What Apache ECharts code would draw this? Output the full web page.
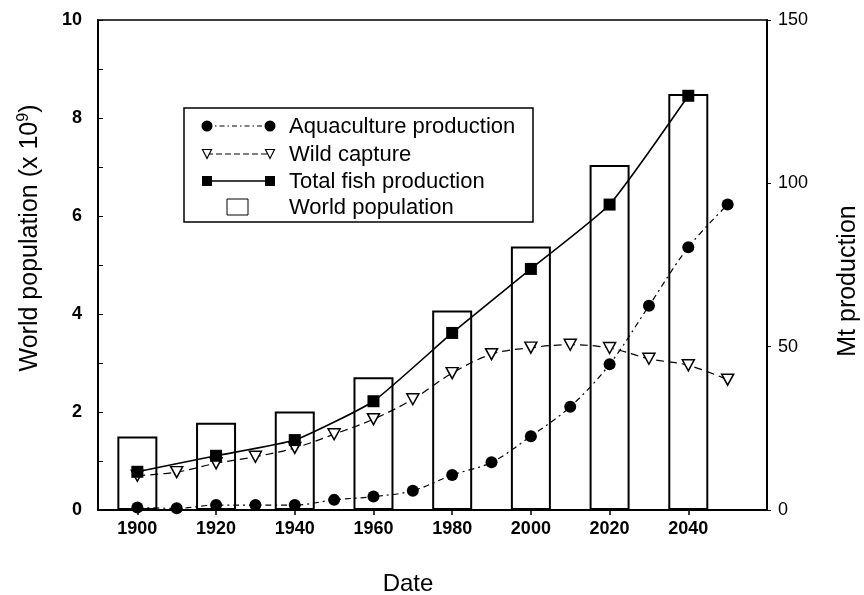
<!DOCTYPE html>
<html>
<head>
<meta charset="utf-8">
<script src="https://cdn.jsdelivr.net/npm/echarts@6/dist/echarts.min.js"></script>
<style>
html,body{margin:0;padding:0;background:#fff;}
#chart{width:864px;height:595px;}
</style>
</head>
<body>
<div id="chart"></div>
<script>
// ---- data ----
const xTickLabels = [1900, 1920, 1940, 1960, 1980, 2000, 2020, 2040];
const leftTickLabels = [0, 2, 4, 6, 8, 10];
const rightTickLabels = [0, 50, 100, 150];

const popYears = [1900, 1920, 1940, 1960, 1980, 2000, 2020, 2040];
const population = [1.5, 1.78, 2.01, 2.71, 4.07, 5.38, 7.04, 8.49];

const totalYears = [1900, 1920, 1940, 1960, 1980, 2000, 2020, 2040];
const totalFish = [11.7, 16.6, 21.4, 33.3, 54.2, 73.8, 93.5, 126.8];

const decadeYears = [1900, 1910, 1920, 1930, 1940, 1950, 1960, 1970, 1980, 1990, 2000, 2010, 2020, 2030, 2040, 2050];
const wildCapture = [10.5, 11.6, 14.3, 16.3, 19.0, 23.2, 27.8, 33.9, 41.9, 47.7, 49.7, 50.6, 49.6, 46.3, 44.3, 39.9];
const aquaculture = [0.8, 0.5, 1.5, 1.5, 1.5, 3.1, 4.1, 5.9, 10.7, 14.6, 22.6, 31.6, 44.6, 62.5, 80.4, 93.5];

const legendNames = ['Aquaculture production', 'Wild capture', 'Total fish production', 'World population'];

// ---- build ----
const FONT = 'Liberation Sans, Arial, Helvetica, sans-serif';
const zip = (xs, ys) => xs.map((x, i) => [x, ys[i]]);

const chart = echarts.init(document.getElementById('chart'), null, {renderer: 'canvas'});

function downTri(cx, cy, s) {
  return [[cx - s / 2, cy - s / 2], [cx + s / 2, cy - s / 2], [cx, cy + s / 2]];
}

const L = {x0: 184, y0: 108, w: 349, h: 114, sx1: 207, sx2: 270, tx: 289, rows: [126, 154, 181, 207]};
const legendGraphics = [
  {type: 'rect', shape: {x: L.x0, y: L.y0, width: L.w, height: L.h}, style: {fill: '#fff', stroke: '#000', lineWidth: 1.5}, z: 100},
  {type: 'line', shape: {x1: L.sx1, y1: L.rows[0], x2: L.sx2, y2: L.rows[0]}, style: {stroke: '#000', lineWidth: 1, lineDash: [5, 3, 1.5, 3]}, z: 101},
  {type: 'circle', shape: {cx: L.sx1, cy: L.rows[0], r: 5.5}, style: {fill: '#000'}, z: 102},
  {type: 'circle', shape: {cx: L.sx2, cy: L.rows[0], r: 5.5}, style: {fill: '#000'}, z: 102},
  {type: 'line', shape: {x1: L.sx1, y1: L.rows[1], x2: L.sx2, y2: L.rows[1]}, style: {stroke: '#000', lineWidth: 1, lineDash: [6, 3]}, z: 101},
  {type: 'polygon', shape: {points: downTri(L.sx1, L.rows[1], 9)}, style: {fill: '#fff', stroke: '#000', lineWidth: 1.2}, z: 102},
  {type: 'polygon', shape: {points: downTri(L.sx2, L.rows[1], 9)}, style: {fill: '#fff', stroke: '#000', lineWidth: 1.2}, z: 102},
  {type: 'line', shape: {x1: L.sx1, y1: L.rows[2], x2: L.sx2, y2: L.rows[2]}, style: {stroke: '#000', lineWidth: 1.5}, z: 101},
  {type: 'rect', shape: {x: L.sx1 - 5, y: L.rows[2] - 5, width: 10, height: 10}, style: {fill: '#000'}, z: 102},
  {type: 'rect', shape: {x: L.sx2 - 5, y: L.rows[2] - 5, width: 10, height: 10}, style: {fill: '#000'}, z: 102},
  {type: 'rect', shape: {x: 227, y: L.rows[3] - 8, width: 21, height: 16}, style: {fill: '#fff', stroke: '#000', lineWidth: 1}, z: 102}
];
legendNames.forEach((n, i) => {
  legendGraphics.push({
    type: 'text', x: L.tx, y: L.rows[i] + 1, z: 102,
    style: {text: n, font: '22px ' + FONT, fill: '#000', textAlign: 'left', textVerticalAlign: 'middle'}
  });
});

const titleGraphics = [
  {
    type: 'text', x: 30, y: 238, rotation: Math.PI / 2,
    style: {
      text: 'World population (x 10{sup|9})',
      font: '25px ' + FONT, fill: '#000', textAlign: 'center', textVerticalAlign: 'middle',
      rich: {sup: {fontSize: 16, fontFamily: FONT, padding: [0, 0, 12, 0]}}
    }
  },
  {
    type: 'text', x: 848, y: 281, rotation: Math.PI / 2,
    style: {text: 'Mt production', font: '25px ' + FONT, fill: '#000', textAlign: 'center', textVerticalAlign: 'middle'}
  },
  {
    type: 'text', x: 408, y: 584,
    style: {text: 'Date', font: '24px ' + FONT, fill: '#000', textAlign: 'center', textVerticalAlign: 'middle'}
  }
];

const option = {
  backgroundColor: '#fff',
  animation: false,
  grid: {left: 98, right: 97, top: 20, bottom: 85, show: true, borderColor: '#000', borderWidth: 1.5, backgroundColor: 'transparent'},
  xAxis: {
    type: 'value', min: 1890, max: 2060,
    axisLine: {show: true, lineStyle: {color: '#000', width: 2}},
    axisTick: {show: true, inside: false, length: 5, lineStyle: {color: '#000', width: 1.5}, customValues: xTickLabels},
    axisLabel: {
      show: true, margin: 10, color: '#000', fontSize: 18, fontWeight: 'bold', fontFamily: FONT,
      customValues: xTickLabels, formatter: v => String(v)
    },
    splitLine: {show: false}
  },
  yAxis: [
    {
      type: 'value', min: 0, max: 10, interval: 1, position: 'left',
      axisLine: {show: true, lineStyle: {color: '#000', width: 2}},
      axisTick: {show: true, inside: true, length: 5, lineStyle: {color: '#000', width: 1}},
      axisLabel: {
        show: true, margin: 16, color: '#000', fontSize: 18, fontWeight: 'bold', fontFamily: FONT,
        formatter: v => (leftTickLabels.indexOf(v) >= 0 ? String(v) : '')
      },
      splitLine: {show: false}
    },
    {
      type: 'value', min: 0, max: 150, interval: 50, position: 'right',
      axisLine: {show: true, lineStyle: {color: '#000', width: 2}},
      axisTick: {show: true, inside: false, length: 4, lineStyle: {color: '#000', width: 1}},
      axisLabel: {
        show: true, margin: 11, color: '#000', fontSize: 18, fontFamily: FONT,
        formatter: v => (rightTickLabels.indexOf(v) >= 0 ? String(v) : '')
      },
      splitLine: {show: false}
    }
  ],
  series: [
    {
      name: legendNames[3], type: 'bar', yAxisIndex: 0, barWidth: 40, z: 1,
      data: zip(popYears, population),
      itemStyle: {color: '#fff', borderColor: '#000', borderWidth: 2}
    },
    {
      name: legendNames[1], type: 'line', yAxisIndex: 1, z: 3, smooth: 0.35,
      data: zip(decadeYears, wildCapture),
      symbol: 'triangle', symbolRotate: 180, symbolSize: [12, 11],
      lineStyle: {color: '#000', width: 1.2, type: [8, 5]},
      itemStyle: {color: '#fff', borderColor: '#000', borderWidth: 1.5}
    },
    {
      name: legendNames[0], type: 'line', yAxisIndex: 1, z: 4, smooth: 0.35,
      data: zip(decadeYears, aquaculture),
      symbol: 'circle', symbolSize: 12,
      lineStyle: {color: '#000', width: 1.2, type: [6, 4, 2, 4]},
      itemStyle: {color: '#000'}
    },
    {
      name: legendNames[2], type: 'line', yAxisIndex: 1, z: 5, smooth: 0.15,
      data: zip(totalYears, totalFish),
      symbol: 'rect', symbolSize: 12,
      lineStyle: {color: '#000', width: 1.6, type: 'solid'},
      itemStyle: {color: '#000'}
    }
  ],
  graphic: legendGraphics.concat(titleGraphics)
};
chart.setOption(option);
</script>
</body>
</html>
